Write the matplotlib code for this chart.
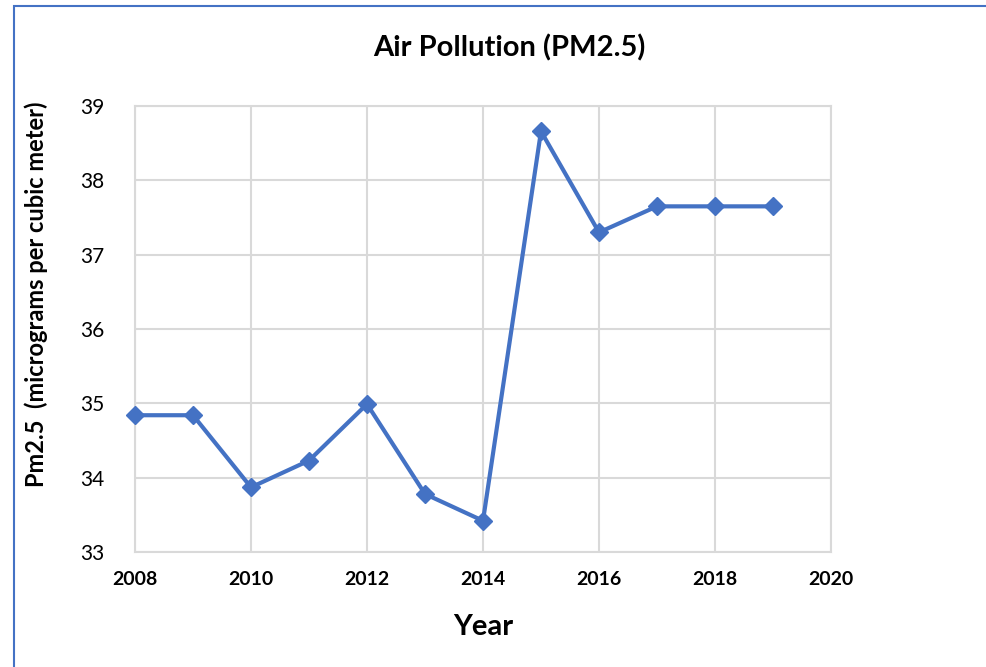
import matplotlib.pyplot as plt
from matplotlib.patches import Rectangle

years = [2008, 2009, 2010, 2011, 2012, 2013, 2014, 2015, 2016, 2017, 2018, 2019]
pm25 = [34.84, 34.84, 33.87, 34.23, 34.99, 33.78, 33.42, 38.66, 37.30, 37.65, 37.65, 37.65]
x_ticks = [2008, 2010, 2012, 2014, 2016, 2018, 2020]
y_ticks = [33, 34, 35, 36, 37, 38, 39]

plt.rcParams['font.family'] = ['Lato', 'DejaVu Sans']

fig = plt.figure(figsize=(9.86, 6.67), dpi=100)
ax = fig.add_axes([135/986, 1-552/667, 696/986, 446/667])

ax.plot(years, pm25, color='#4472C4', linewidth=3, marker='D', markersize=9,
        zorder=3, clip_on=False)

ax.set_xlim(2008, 2020)
ax.set_ylim(33, 39)
ax.set_xticks(x_ticks)
ax.set_yticks(y_ticks)
ax.set_xticklabels([str(t) for t in x_ticks], fontsize=14, fontweight='bold')
ax.set_yticklabels([str(t) for t in y_ticks], fontsize=15)
ax.grid(True, color='#d9d9d9', linewidth=1.5)
ax.set_axisbelow(True)
for s in ax.spines.values():
    s.set_color('#d9d9d9')
    s.set_linewidth(1.5)
ax.tick_params(length=0)
ax.tick_params(axis='x', pad=14)
ax.tick_params(axis='y', pad=22)

ax.set_xlabel('Year', fontsize=21, fontweight='bold')
ax.xaxis.set_label_coords(0.5, -0.14)
ax.set_ylabel('Pm2.5  (micrograms per cubic meter)', fontsize=17, fontweight='bold')
ax.yaxis.set_label_coords(-0.125, 0.578)
fig.text(0.517, 1-48/667, 'Air Pollution (PM2.5)', ha='center', va='center',
         fontsize=21, fontweight='bold')

# outer frame, partly cut off on the right and bottom
fig.add_artist(Rectangle((14/986, -0.1), 1.1, 1-6/667+0.1, transform=fig.transFigure,
                         fill=False, edgecolor='#4472C4', linewidth=1.5))

fig.savefig('out.png', dpi=100)
